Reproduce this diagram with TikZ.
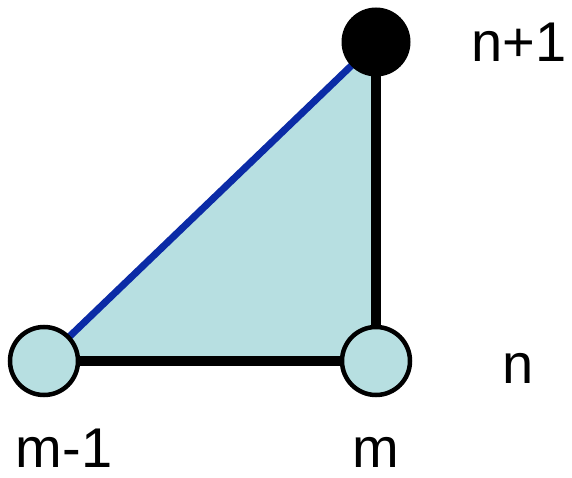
\documentclass[tikz,border=0pt]{standalone}
\usepackage{fontspec}
\setmainfont{Liberation Sans}
\definecolor{tri}{HTML}{B7DFE1}
\definecolor{hyp}{HTML}{0B2BA6}
\begin{document}
\begin{tikzpicture}[x=1pt,y=-1pt,
  lbl/.style={font=\fontsize{56}{60}\selectfont, inner sep=0pt, anchor=base},
  open/.style={circle, draw=black, line width=4.5pt, fill=tri, minimum size=68pt, inner sep=0pt},
  solid dot/.style={circle, fill=black, minimum size=69pt, inner sep=0pt},
  edge/.style={line width=10pt, black},
  hypedge/.style={line width=7pt, hyp}]
\useasboundingbox (0,0) rectangle (572,478);
\coordinate (A) at (44,361);
\coordinate (B) at (376,361);
\coordinate (C) at (376,42);
\fill[tri] (A) -- (B) -- (C) -- cycle;
\draw[hypedge] (A) -- (C);
\draw[edge] (A) -- (B);
\draw[edge] (B) -- (C);
\node[open] (mm1) at (A) {};
\node[open] (m) at (B) {};
\node[solid dot] (np1) at (C) {};
\node[lbl] (tnp1) at (519,62) {n+1};
\node[lbl] (tn) at (518,383) {n};
\node[lbl] (tmm1) at (64,467) {m-1};
\node[lbl] (tm) at (376,467) {m};
\end{tikzpicture}
\end{document}
